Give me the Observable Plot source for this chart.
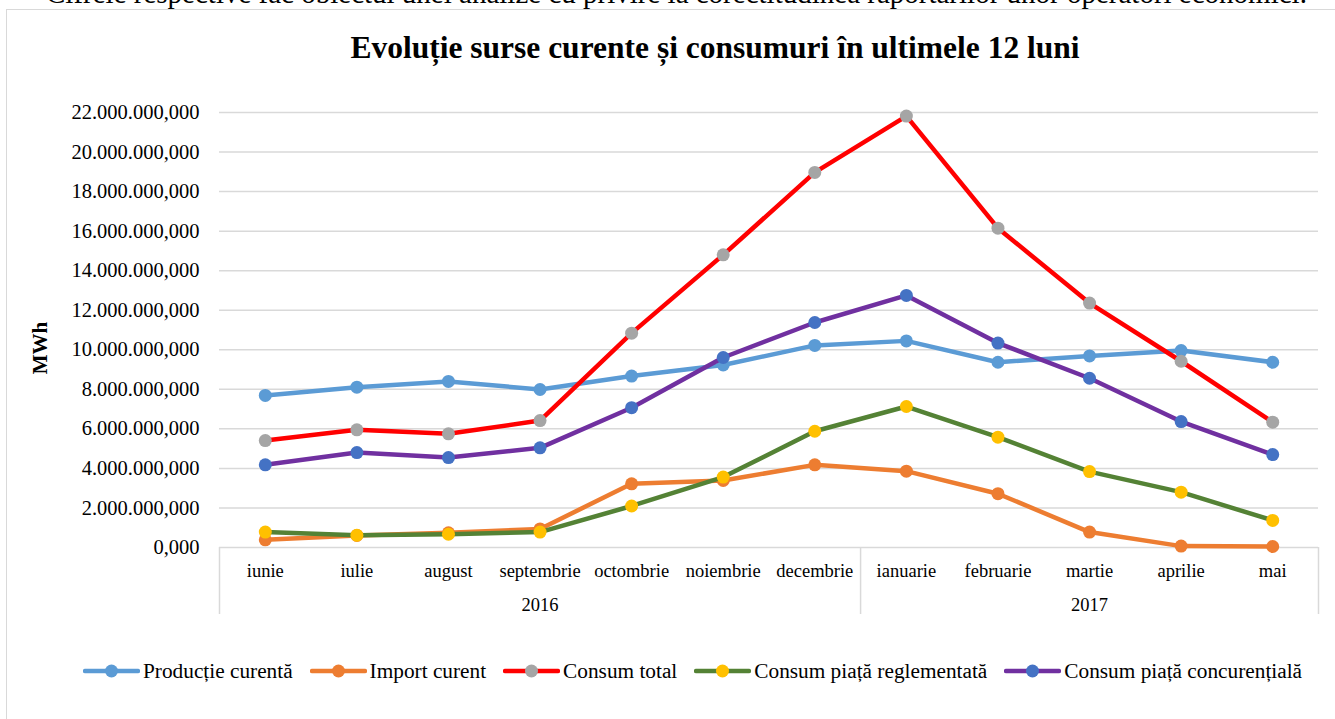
<!DOCTYPE html>
<html><head><meta charset="utf-8">
<script src="https://cdn.jsdelivr.net/npm/d3@7"></script>
<script src="https://cdn.jsdelivr.net/npm/@observablehq/plot@0.6"></script>
<style>
body{margin:0;background:#fff;font-family:"Liberation Serif","Times New Roman",serif;color:#000;}
#wrap{position:relative;width:1335px;height:719px;overflow:hidden;background:#fff;}
#cut{position:absolute;left:46px;top:-21px;font-size:29px;line-height:29px;white-space:nowrap;}
#box{position:absolute;left:6px;top:9px;width:1400px;height:800px;border:1.5px solid #d9d9d9;}
#title{position:absolute;left:0;width:1430px;top:29px;text-align:center;font-weight:bold;font-size:31.5px;line-height:38px;}
#chart{position:absolute;left:0;top:0;}
#legend{position:absolute;left:83px;top:657px;height:28px;display:flex;align-items:center;font-size:21.3px;white-space:nowrap;}
.item{display:flex;align-items:center;margin-right:17px;}
.item svg{margin-right:3px;}
</style>
</head><body>
<div id="wrap">
  <div id="cut">Cifrele respective fac obiectul unei analize cu privire la corectitudinea raportărilor unor operatori economici.</div>
  <div id="box"></div>
  <div id="chart"></div>
  <div id="title">Evoluție surse curente și consumuri în ultimele 12 luni</div>
  <div id="legend"></div>
</div>
<script>
// ---- data ----
const months = ["iunie","iulie","august","septembrie","octombrie","noiembrie","decembrie","ianuarie","februarie","martie","aprilie","mai"];
const years = ["2016","2016","2016","2016","2016","2016","2016","2017","2017","2017","2017","2017"];
const seriesNames = ["Producție curentă","Import curent","Consum total","Consum piață reglementată","Consum piață concurențială"];
const productieCurenta = [7690000,8110000,8400000,7990000,8670000,9230000,10220000,10450000,9370000,9690000,9960000,9370000];
const importCurent = [390000,610000,740000,940000,3220000,3390000,4180000,3860000,2720000,780000,70000,50000];
const consumTotal = [5410000,5950000,5750000,6420000,10840000,14800000,18970000,21820000,16150000,12360000,9420000,6340000];
const consumReglementata = [780000,620000,670000,780000,2100000,3560000,5880000,7130000,5580000,3840000,2800000,1370000];
const consumConcurentiala = [4180000,4800000,4550000,5040000,7070000,9610000,11380000,12750000,10340000,8560000,6370000,4700000];
const yTicks = d3.range(0, 22000001, 2000000);
const lineColors = ["#5B9BD5","#ED7D31","#FF0000","#548235","#7030A0"];
const markerColors = ["#5B9BD5","#ED7D31","#A5A5A5","#FFC000","#4472C4"];

const seriesValues = [productieCurenta, importCurent, consumTotal, consumReglementata, consumConcurentiala];
const fmt = d3.formatLocale({decimal:",", thousands:".", grouping:[3], currency:["",""]}).format(",.3f");
const serif = "'Liberation Serif','Times New Roman',serif";

// year groups
const groups = [];
years.forEach((y,i)=>{
  const last = groups[groups.length-1];
  if (last && last.year === y) last.end = i+1; else groups.push({year:y, start:i, end:i+1});
});
const boundaries = [0, ...groups.map(g=>g.end)];

const seriesMarks = [];
seriesNames.forEach((name, k) => {
  const rows = seriesValues[k].map((v,i)=>({name, i, month: months[i], v}));
  seriesMarks.push(Plot.line(rows, {x: d=>d.i+0.5, y:"v", stroke: lineColors[k], strokeWidth:4.5, strokeLinejoin:"round", strokeLinecap:"round"}));
  seriesMarks.push(Plot.dot(rows, {x: d=>d.i+0.5, y:"v", r:6.5, fill: markerColors[k], stroke:"none"}));
});

const chart = Plot.plot({
  width:1335, height:719,
  marginLeft:219, marginRight:17, marginTop:112, marginBottom:172,
  style:{fontFamily:serif, fontSize:"20px", color:"#000", background:"transparent"},
  x:{type:"linear", domain:[0, months.length], axis:null},
  y:{domain:[0, 22000000], axis:null},
  marks:[
    Plot.gridY(yTicks, {stroke:"#d9d9d9", strokeOpacity:1, strokeWidth:1.5}),
    Plot.axisY(yTicks, {tickFormat: fmt, tickSize:0, tickPadding:20, fontSize:20.5, fontFamily:serif, fontVariant:"normal", label:null}),
    Plot.ruleX(boundaries, {x:d=>d, stroke:"#d9d9d9", strokeWidth:1.5, insetTop:435, insetBottom:-67}),
    Plot.text(months, {x:(d,i)=>i+0.5, text:d=>d, frameAnchor:"bottom", lineAnchor:"middle", dy:24, fontSize:18.5, fontFamily:serif}),
    Plot.text(groups, {x:d=>(d.start+d.end)/2, text:"year", frameAnchor:"bottom", lineAnchor:"middle", dy:58, fontSize:18.5, fontFamily:serif}),
    Plot.text(["MWh"], {frameAnchor:"left", textAnchor:"middle", dx:-179, dy:18, rotate:-90, fontWeight:"bold", fontSize:21, fontFamily:serif}),
    ...seriesMarks
  ]
});
document.getElementById("chart").appendChild(chart);

// legend
const legend = document.getElementById("legend");
seriesNames.forEach((name,k)=>{
  const it = document.createElement("div");
  it.className = "item";
  it.innerHTML = `<svg width="57" height="16"><line x1="2" y1="8" x2="55" y2="8" stroke="${lineColors[k]}" stroke-width="4.5" stroke-linecap="round"/><circle cx="28.5" cy="8" r="6.5" fill="${markerColors[k]}"/></svg><span>${name}</span>`;
  legend.appendChild(it);
});
</script>
</body></html>
